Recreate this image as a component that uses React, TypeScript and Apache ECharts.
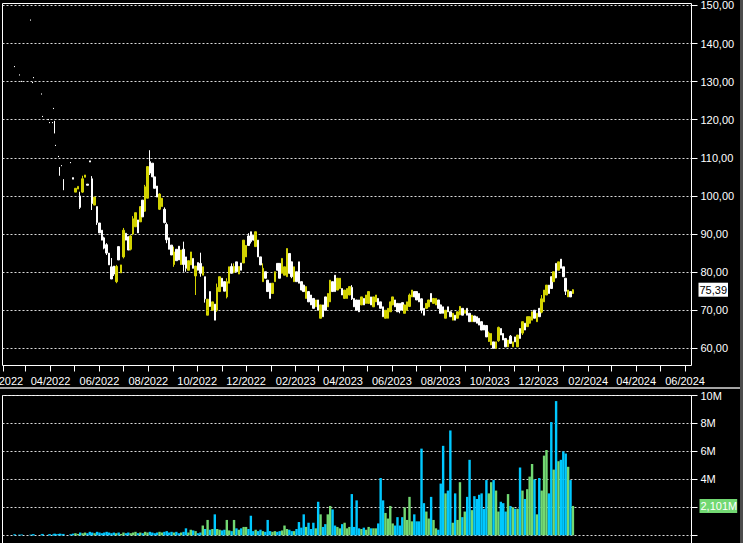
import { useEffect, useRef } from 'react';
import * as echarts from 'echarts';

// [date, open, close, low, high, volume in millions]
type Bar = [string, number, number, number, number, number];

const earlyTrades: Bar[] = [
  ['2022-02-15', 134.1, 133.8, 133.8, 134.1, 0.08],
  ['2022-02-21', 131.9, 131.6, 131.6, 131.9, 0.05],
  ['2022-02-24', 130.2, 129.9, 129.9, 130.2, 0.06],
  ['2022-03-07', 146.3, 146.0, 146.0, 146.3, 0.05],
  ['2022-03-10', 129.9, 129.6, 129.6, 129.9, 0.08],
  ['2022-03-11', 131.2, 130.9, 130.9, 131.2, 0.06],
  ['2022-03-21', 126.9, 126.6, 126.6, 126.9, 0.07],
  ['2022-03-22', 121.0, 120.7, 120.7, 121.0, 0.1],
  ['2022-03-30', 120.2, 119.9, 119.9, 120.2, 0.06],
  ['2022-03-31', 119.4, 119.1, 119.1, 119.4, 0.08],
  ['2022-04-04', 119.4, 119.1, 119.1, 119.4, 0.05],
  ['2022-04-05', 123.1, 122.8, 122.8, 123.1, 0.07],
  ['2022-04-06', 119.7, 116.4, 116.4, 119.7, 0.12],
  ['2022-04-08', 113.4, 113.1, 113.1, 113.4, 0.08],
  ['2022-04-11', 110.5, 110.2, 110.2, 110.5, 0.1],
  ['2022-04-13', 107.6, 105.3, 105.3, 107.6, 0.12],
  ['2022-04-15', 108.1, 107.8, 107.8, 108.1, 0.06],
  ['2022-04-17', 104.4, 102.1, 101.5, 104.4, 0.1],
  ['2022-04-26', 108.9, 108.6, 108.6, 108.9, 0.08],
];

const dailyBars: Bar[] = [
  ['2022-04-29', 104.8, 104.4, 104.4, 104.8, 0.12],
  ['2022-05-02', 101.0, 102.0, 101.0, 102.0, 0.15],
  ['2022-05-05', 101.8, 102.5, 101.8, 102.5, 0.1],
  ['2022-05-08', 100.0, 97.0, 96.6, 101.1, 0.2],
  ['2022-05-11', 101.0, 104.5, 100.8, 105.3, 0.15],
  ['2022-05-14', 104.9, 105.5, 104.9, 105.5, 0.2],
  ['2022-05-17', 103.1, 102.8, 102.8, 103.1, 0.15],
  ['2022-05-20', 109.2, 108.9, 108.9, 109.2, 0.25],
  ['2022-05-23', 104.5, 98.0, 96.3, 105.2, 0.2],
  ['2022-05-26', 97.6, 99.7, 97.6, 99.7, 0.15],
  ['2022-05-29', 97.2, 93.0, 92.4, 97.2, 0.25],
  ['2022-06-01', 92.9, 90.3, 90.3, 92.9, 0.2],
  ['2022-06-04', 91.0, 88.4, 88.4, 91.0, 0.15],
  ['2022-06-07', 89.0, 86.3, 86.0, 89.3, 0.2],
  ['2022-06-10', 87.2, 85.0, 84.5, 87.6, 0.25],
  ['2022-06-13', 85.0, 81.9, 81.9, 85.0, 0.2],
  ['2022-06-16', 81.4, 78.2, 78.2, 83.7, 0.15],
  ['2022-06-19', 81.6, 79.5, 79.0, 81.6, 0.2],
  ['2022-06-22', 77.5, 81.5, 77.1, 81.9, 0.15],
  ['2022-06-25', 86.7, 83.2, 83.2, 86.7, 0.2],
  ['2022-06-28', 79.8, 81.9, 79.8, 81.9, 0.1],
  ['2022-07-01', 84.0, 91.0, 83.6, 91.6, 0.2],
  ['2022-07-04', 90.2, 88.4, 88.4, 90.2, 0.15],
  ['2022-07-07', 89.3, 85.8, 85.8, 89.3, 0.2],
  ['2022-07-10', 86.0, 89.5, 85.7, 89.7, 0.15],
  ['2022-07-13', 90.0, 94.0, 89.7, 94.7, 0.2],
  ['2022-07-16', 91.9, 95.6, 91.9, 95.6, 0.25],
  ['2022-07-19', 93.7, 90.3, 90.3, 93.7, 0.15],
  ['2022-07-22', 93.2, 97.2, 93.2, 97.2, 0.2],
  ['2022-07-25', 98.9, 94.5, 94.5, 98.9, 0.15],
  ['2022-07-28', 96.0, 102.4, 95.8, 102.9, 0.25],
  ['2022-07-31', 99.4, 107.7, 99.4, 107.7, 0.2],
  ['2022-08-03', 109.0, 106.0, 105.5, 112.0, 0.25],
  ['2022-08-06', 108.6, 105.0, 105.0, 108.6, 0.2],
  ['2022-08-09', 105.0, 102.0, 102.0, 105.0, 0.15],
  ['2022-08-12', 102.6, 99.7, 99.7, 102.6, 0.2],
  ['2022-08-15', 96.5, 100.5, 96.3, 100.7, 0.25],
  ['2022-08-18', 97.2, 99.4, 97.2, 99.4, 0.2],
  ['2022-08-21', 96.5, 93.0, 92.8, 97.0, 0.25],
  ['2022-08-24', 92.5, 88.5, 87.6, 93.0, 0.3],
  ['2022-08-27', 89.0, 86.0, 86.0, 89.0, 0.2],
  ['2022-08-30', 87.1, 84.5, 84.5, 87.1, 0.25],
  ['2022-09-02', 82.0, 85.3, 81.4, 86.7, 0.2],
  ['2022-09-05', 86.0, 83.0, 83.0, 86.0, 0.25],
  ['2022-09-08', 86.8, 83.2, 83.2, 86.8, 0.15],
  ['2022-09-11', 82.0, 85.8, 81.9, 85.8, 0.2],
  ['2022-09-14', 86.0, 82.0, 80.1, 88.0, 0.25],
  ['2022-09-17', 84.0, 81.0, 80.1, 84.0, 0.5],
  ['2022-09-20', 80.5, 83.0, 80.5, 83.0, 0.2],
  ['2022-09-23', 81.9, 85.3, 81.9, 85.3, 0.4],
  ['2022-09-26', 83.6, 81.0, 81.0, 83.6, 0.35],
  ['2022-09-29', 79.0, 81.6, 74.0, 81.6, 0.3],
  ['2022-10-02', 82.5, 80.5, 80.5, 82.5, 0.15],
  ['2022-10-05', 82.3, 79.7, 78.8, 85.1, 0.2],
  ['2022-10-08', 79.2, 81.4, 79.2, 81.4, 0.7],
  ['2022-10-11', 78.8, 73.0, 72.0, 78.8, 0.45],
  ['2022-10-14', 68.7, 72.9, 68.7, 72.9, 1.1],
  ['2022-10-17', 74.9, 71.0, 70.9, 74.9, 0.4],
  ['2022-10-20', 70.0, 72.2, 70.0, 72.2, 0.45],
  ['2022-10-23', 71.6, 67.4, 67.4, 71.6, 1.5],
  ['2022-10-26', 70.0, 76.0, 69.6, 77.0, 0.45],
  ['2022-10-29', 74.9, 78.8, 74.9, 78.8, 0.4],
  ['2022-11-01', 78.4, 76.2, 76.2, 78.4, 0.35],
  ['2022-11-04', 77.5, 75.0, 75.0, 77.5, 0.4],
  ['2022-11-07', 73.5, 77.5, 73.1, 78.4, 1.1],
  ['2022-11-10', 77.1, 81.4, 77.1, 81.4, 0.35],
  ['2022-11-13', 81.5, 79.7, 79.7, 82.3, 0.3],
  ['2022-11-16', 80.0, 81.5, 79.7, 82.3, 1.1],
  ['2022-11-19', 82.7, 80.1, 80.1, 82.7, 0.5],
  ['2022-11-22', 79.5, 81.5, 79.5, 81.5, 0.4],
  ['2022-11-25', 82.4, 80.5, 80.5, 82.4, 0.5],
  ['2022-11-28', 82.4, 88.4, 82.4, 88.4, 0.6],
  ['2022-12-01', 84.0, 87.0, 84.0, 87.1, 0.6],
  ['2022-12-04', 89.5, 87.0, 87.0, 90.2, 0.45],
  ['2022-12-07', 90.6, 88.0, 87.5, 90.6, 1.4],
  ['2022-12-10', 89.7, 88.4, 88.4, 89.7, 0.3],
  ['2022-12-13', 86.7, 90.6, 86.7, 90.6, 0.4],
  ['2022-12-16', 88.4, 84.0, 84.0, 88.4, 0.3],
  ['2022-12-19', 84.0, 81.9, 81.9, 84.0, 0.4],
  ['2022-12-22', 77.5, 81.0, 77.5, 82.3, 0.3],
  ['2022-12-25', 80.1, 78.4, 78.4, 80.1, 0.25],
  ['2022-12-28', 77.9, 74.9, 74.9, 77.9, 1.1],
  ['2022-12-31', 77.1, 73.1, 73.1, 77.1, 0.3],
  ['2023-01-03', 74.4, 77.1, 74.4, 77.1, 0.25],
  ['2023-01-06', 77.5, 80.1, 77.5, 80.1, 0.3],
  ['2023-01-09', 82.3, 80.5, 80.5, 82.3, 0.25],
  ['2023-01-12', 82.3, 78.4, 78.4, 82.3, 0.3],
  ['2023-01-15', 79.7, 83.6, 79.7, 83.6, 0.35],
  ['2023-01-18', 79.2, 81.4, 79.2, 81.4, 0.7],
  ['2023-01-21', 78.8, 86.2, 78.8, 86.2, 0.45],
  ['2023-01-24', 84.9, 79.7, 79.7, 84.9, 0.4],
  ['2023-01-27', 82.7, 78.8, 78.4, 82.7, 0.3],
  ['2023-01-30', 77.5, 81.4, 77.5, 81.4, 0.3],
  ['2023-02-02', 80.1, 77.5, 77.5, 80.1, 0.45],
  ['2023-02-05', 82.7, 77.1, 77.1, 82.7, 0.95],
  ['2023-02-08', 77.5, 75.3, 75.3, 77.5, 0.55],
  ['2023-02-11', 76.6, 74.9, 74.9, 76.6, 1.5],
  ['2023-02-14', 73.1, 76.2, 73.1, 76.2, 0.6],
  ['2023-02-17', 74.9, 72.2, 72.2, 74.9, 0.9],
  ['2023-02-20', 74.0, 71.4, 71.4, 74.0, 0.45],
  ['2023-02-23', 73.1, 70.5, 70.5, 73.1, 0.9],
  ['2023-02-26', 70.9, 72.7, 70.9, 72.7, 0.5],
  ['2023-03-01', 72.7, 70.0, 70.0, 72.7, 2.4],
  ['2023-03-04', 67.9, 71.4, 67.9, 71.4, 1.5],
  ['2023-03-07', 71.4, 68.3, 68.3, 71.4, 0.6],
  ['2023-03-10', 73.5, 70.0, 70.0, 73.5, 0.8],
  ['2023-03-13', 70.9, 74.4, 70.9, 74.4, 1.5],
  ['2023-03-16', 72.2, 77.9, 72.2, 77.9, 2.1],
  ['2023-03-19', 77.5, 74.9, 74.9, 77.5, 1.85],
  ['2023-03-22', 79.2, 74.9, 74.9, 79.2, 0.7],
  ['2023-03-25', 75.3, 78.4, 75.3, 78.4, 0.6],
  ['2023-03-28', 75.7, 78.4, 75.7, 78.4, 0.5],
  ['2023-03-31', 75.7, 74.0, 74.0, 75.7, 0.8],
  ['2023-04-03', 73.1, 75.3, 73.1, 75.3, 0.9],
  ['2023-04-06', 73.1, 75.7, 73.1, 75.7, 0.5],
  ['2023-04-09', 74.0, 76.2, 74.0, 76.2, 0.6],
  ['2023-04-12', 76.0, 73.0, 72.7, 76.6, 2.95],
  ['2023-04-15', 73.1, 70.9, 70.9, 73.1, 0.6],
  ['2023-04-18', 72.7, 70.0, 70.0, 72.7, 2.5],
  ['2023-04-21', 72.7, 69.6, 69.6, 72.7, 0.5],
  ['2023-04-24', 71.4, 73.5, 71.4, 73.5, 0.45],
  ['2023-04-27', 73.1, 71.4, 71.4, 73.1, 0.55],
  ['2023-04-30', 71.8, 74.0, 71.8, 74.0, 0.4],
  ['2023-05-03', 71.8, 74.9, 71.8, 74.9, 0.6],
  ['2023-05-06', 73.5, 71.4, 71.4, 73.5, 0.5],
  ['2023-05-09', 70.9, 73.5, 70.9, 73.5, 0.5],
  ['2023-05-12', 72.2, 74.0, 72.2, 74.0, 0.5],
  ['2023-05-15', 73.1, 71.4, 71.4, 73.1, 0.85],
  ['2023-05-18', 72.2, 70.5, 70.5, 72.2, 4.1],
  ['2023-05-21', 70.9, 68.3, 68.3, 70.9, 2.5],
  ['2023-05-24', 67.9, 70.0, 67.9, 70.0, 1.6],
  ['2023-05-27', 67.9, 70.5, 67.9, 70.5, 1.2],
  ['2023-05-30', 69.6, 72.2, 69.6, 72.2, 2.1],
  ['2023-06-02', 71.4, 73.5, 71.4, 73.5, 0.85],
  ['2023-06-05', 72.7, 70.9, 70.9, 72.7, 0.7],
  ['2023-06-08', 71.8, 69.6, 69.6, 71.8, 1.3],
  ['2023-06-11', 71.8, 70.0, 69.2, 71.8, 0.7],
  ['2023-06-14', 72.0, 70.0, 70.0, 72.0, 1.3],
  ['2023-06-17', 69.2, 71.4, 69.2, 71.4, 2.0],
  ['2023-06-20', 70.0, 72.2, 70.0, 72.2, 1.1],
  ['2023-06-23', 71.0, 74.0, 70.9, 74.4, 2.75],
  ['2023-06-26', 73.5, 75.3, 73.5, 75.3, 1.0],
  ['2023-06-29', 74.9, 73.5, 73.5, 74.9, 1.5],
  ['2023-07-02', 74.9, 72.7, 72.7, 74.9, 1.0],
  ['2023-07-05', 74.4, 72.2, 72.2, 74.4, 1.0],
  ['2023-07-08', 73.0, 70.0, 69.2, 73.1, 6.2],
  ['2023-07-11', 70.5, 68.7, 68.7, 70.5, 2.3],
  ['2023-07-14', 70.5, 71.8, 70.5, 71.8, 1.7],
  ['2023-07-17', 70.9, 72.7, 70.9, 72.7, 1.2],
  ['2023-07-20', 74.4, 72.2, 72.2, 74.4, 2.75],
  ['2023-07-23', 71.8, 73.1, 71.8, 73.1, 1.1],
  ['2023-07-26', 71.4, 73.1, 71.4, 73.1, 0.5],
  ['2023-07-29', 72.7, 70.5, 70.5, 72.7, 0.4],
  ['2023-08-01', 71.4, 69.2, 69.2, 71.4, 3.7],
  ['2023-08-04', 70.9, 69.2, 69.2, 70.9, 6.4],
  ['2023-08-07', 67.9, 70.0, 67.9, 70.0, 3.0],
  ['2023-08-10', 70.9, 69.6, 69.6, 70.9, 3.2],
  ['2023-08-13', 69.6, 68.3, 68.3, 69.6, 7.5],
  ['2023-08-16', 67.4, 69.2, 67.4, 69.2, 0.9],
  ['2023-08-19', 68.7, 67.4, 67.4, 68.7, 3.0],
  ['2023-08-22', 67.9, 69.6, 67.9, 69.6, 1.1],
  ['2023-08-25', 68.8, 71.0, 68.7, 71.1, 3.8],
  ['2023-08-28', 70.5, 68.7, 68.7, 70.5, 1.3],
  ['2023-08-31', 69.2, 70.0, 69.2, 70.0, 1.7],
  ['2023-09-03', 70.5, 68.7, 68.7, 70.5, 2.75],
  ['2023-09-06', 69.2, 67.0, 67.0, 69.2, 5.4],
  ['2023-09-09', 67.0, 68.7, 67.0, 68.7, 1.8],
  ['2023-09-12', 68.5, 67.0, 67.0, 68.5, 2.8],
  ['2023-09-15', 68.3, 66.6, 66.6, 68.3, 2.6],
  ['2023-09-18', 67.9, 66.1, 66.1, 67.9, 2.9],
  ['2023-09-21', 67.0, 64.8, 64.8, 67.0, 3.0],
  ['2023-09-24', 66.1, 64.8, 64.8, 66.1, 1.9],
  ['2023-09-27', 66.0, 63.0, 63.0, 66.1, 3.95],
  ['2023-09-30', 61.8, 64.0, 61.7, 64.4, 3.0],
  ['2023-10-03', 60.9, 63.9, 60.9, 63.9, 3.8],
  ['2023-10-06', 61.7, 60.0, 60.0, 61.7, 3.95],
  ['2023-10-09', 60.0, 61.7, 60.0, 61.7, 3.2],
  ['2023-10-12', 62.0, 65.5, 61.7, 65.7, 1.7],
  ['2023-10-15', 65.2, 63.5, 63.5, 65.2, 2.4],
  ['2023-10-18', 63.9, 62.2, 62.2, 63.9, 2.3],
  ['2023-10-21', 62.6, 60.4, 60.4, 62.6, 1.7],
  ['2023-10-24', 60.4, 62.2, 60.4, 62.2, 2.95],
  ['2023-10-27', 63.2, 61.3, 61.3, 63.5, 2.1],
  ['2023-10-30', 60.4, 61.7, 60.4, 61.7, 2.0],
  ['2023-11-02', 63.0, 61.7, 61.7, 63.0, 1.9],
  ['2023-11-05', 60.4, 63.5, 60.4, 63.5, 1.9],
  ['2023-11-08', 65.2, 62.6, 62.6, 65.2, 4.85],
  ['2023-11-11', 64.0, 67.0, 63.5, 67.0, 3.2],
  ['2023-11-14', 66.6, 64.8, 64.8, 66.6, 2.6],
  ['2023-11-17', 65.7, 68.3, 65.7, 68.3, 3.3],
  ['2023-11-20', 66.6, 68.3, 66.6, 68.3, 4.2],
  ['2023-11-23', 67.4, 69.6, 67.4, 69.6, 5.1],
  ['2023-11-26', 70.0, 67.9, 67.9, 70.0, 4.0],
  ['2023-11-29', 67.0, 69.2, 67.0, 69.2, 1.5],
  ['2023-12-02', 70.5, 68.3, 68.3, 70.5, 4.1],
  ['2023-12-05', 69.5, 73.0, 69.2, 74.0, 3.2],
  ['2023-12-08', 72.2, 75.3, 72.2, 75.3, 5.7],
  ['2023-12-11', 74.0, 76.6, 74.0, 76.6, 6.1],
  ['2023-12-14', 76.6, 74.4, 74.4, 76.6, 3.0],
  ['2023-12-17', 78.8, 75.7, 75.7, 78.8, 8.1],
  ['2023-12-20', 77.5, 80.1, 77.5, 80.1, 4.7],
  ['2023-12-23', 82.3, 78.5, 78.4, 82.3, 9.6],
  ['2023-12-26', 80.5, 82.7, 80.5, 82.7, 5.3],
  ['2023-12-29', 83.4, 81.0, 81.0, 83.4, 5.4],
  ['2024-01-01', 81.4, 78.8, 78.8, 81.4, 6.0],
  ['2024-01-04', 78.4, 75.0, 74.0, 78.4, 5.85],
  ['2024-01-07', 73.5, 75.3, 73.5, 75.3, 4.9],
  ['2024-01-10', 74.9, 73.5, 73.5, 74.9, 3.95],
  ['2024-01-13', 74.4, 75.39, 74.3, 75.5, 2.101],
];

const priceTicks = [60, 70, 80, 90, 100, 110, 120, 130, 140, 150];
const volumeTicks = [0, 2, 4, 6, 8, 10];
const volumeLabels = [4, 6, 8, 10];
const monthTicks = [
  '2022-02-01', '2022-03-01', '2022-04-01', '2022-05-01', '2022-06-01', '2022-07-01',
  '2022-08-01', '2022-09-01', '2022-10-01', '2022-11-01', '2022-12-01', '2023-01-01',
  '2023-02-01', '2023-03-01', '2023-04-01', '2023-05-01', '2023-06-01', '2023-07-01',
  '2023-08-01', '2023-09-01', '2023-10-01', '2023-11-01', '2023-12-01', '2024-01-01',
  '2024-02-01', '2024-03-01', '2024-04-01', '2024-05-01', '2024-06-01',
];
const monthLabels = [
  '2022-02-01', '2022-04-01', '2022-06-01', '2022-08-01', '2022-10-01', '2022-12-01',
  '2023-02-01', '2023-04-01', '2023-06-01', '2023-08-01', '2023-10-01', '2023-12-01',
  '2024-02-01', '2024-04-01', '2024-06-01',
];
const axisStart = '2022-01-31';
const axisEnd = '2024-06-09';
const priceRange = [55.5, 150.5];
const volumeRange = [-1, 10];

const UP = '#d2d200';
const DOWN = '#ffffff';
const VOL_UP = '#72d872';
const VOL_DOWN = '#00c8ff';
const GRIDLINE = '#dcdcdc';
const TEXT = '#ffffff';
const FONT = "'Liberation Sans', Arial, sans-serif";

const ts = (d: string) => Date.parse(d + 'T00:00:00Z');
const comma = (v: number, digits: number) => v.toFixed(digits).replace('.', ',');
const monthText = (v: number) => {
  const d = new Date(v);
  return String(d.getUTCMonth() + 1).padStart(2, '0') + '/' + d.getUTCFullYear();
};

export default function App() {
  const ref = useRef<HTMLDivElement>(null);

  useEffect(() => {
    if (!ref.current) return;
    document.body.style.margin = '0';
    const chart = echarts.init(ref.current, null, { renderer: 'svg' });
    const last = dailyBars[dailyBars.length - 1];
    const toCandle = (r: Bar) => [ts(r[0]), r[1], r[2], r[3], r[4]];
    const volumeData = [...earlyTrades, ...dailyBars].map((r) => ({
      value: [ts(r[0]), r[5]],
      itemStyle: { color: r[2] >= r[1] ? VOL_UP : VOL_DOWN },
    }));
    const candleStyle = {
      color: UP,
      color0: DOWN,
      borderColor: UP,
      borderColor0: DOWN,
      borderWidth: 1,
    };
    const labelBase = { color: TEXT, fontSize: 11, fontFamily: FONT };
    const xMin = ts(axisStart);
    const xMax = ts(axisEnd);
    const splitLine = { show: true, lineStyle: { color: GRIDLINE, type: [2, 2], width: 1 } };

    chart.setOption({
      animation: false,
      backgroundColor: '#000000',
      grid: [
        {
          left: 2.5, top: 3.5, width: 689, height: 362,
          show: true, borderColor: '#ffffff', borderWidth: 1, backgroundColor: 'transparent',
          containLabel: false, outerBoundsMode: 'none',
        },
        {
          left: 2.5, top: 395.5, width: 689, height: 153.8,
          show: true, borderColor: '#ffffff', borderWidth: 1, backgroundColor: 'transparent',
          containLabel: false, outerBoundsMode: 'none',
        },
      ],
      xAxis: [
        {
          type: 'value', gridIndex: 0, min: xMin, max: xMax,
          axisLine: { show: false },
          splitLine: { show: false },
          axisTick: { show: true, customValues: monthTicks.map(ts), length: 6, lineStyle: { color: '#ffffff' } },
          axisLabel: { ...labelBase, customValues: monthLabels.map(ts), formatter: monthText, margin: 10 },
        },
        {
          type: 'value', gridIndex: 1, min: xMin, max: xMax,
          axisLine: { show: false }, axisTick: { show: false }, axisLabel: { show: false }, splitLine: { show: false },
        },
      ],
      yAxis: [
        {
          type: 'value', gridIndex: 0, position: 'right', min: priceRange[0], max: priceRange[1],
          axisLine: { show: false },
          axisTick: { show: true, customValues: priceTicks, length: 6, lineStyle: { color: '#ffffff' } },
          axisLabel: { ...labelBase, customValues: priceTicks, formatter: (v: number) => comma(v, 2), margin: 9 },
          splitLine,
        },
        {
          type: 'value', gridIndex: 1, position: 'right', min: volumeRange[0], max: volumeRange[1],
          axisLine: { show: false },
          axisTick: { show: true, customValues: volumeTicks, length: 6, lineStyle: { color: '#ffffff' } },
          axisLabel: { ...labelBase, customValues: volumeLabels, formatter: (v: number) => v + 'M', margin: 9 },
          splitLine,
        },
      ],
      graphic: [
        { type: 'rect', silent: true, shape: { x: 0, y: 387, width: 740, height: 2 }, style: { fill: '#a4a4a4' } },
        { type: 'rect', silent: true, shape: { x: 740, y: 0, width: 3, height: 543 }, style: { fill: '#4c4c4c' } },
      ],
      series: [
        {
          type: 'candlestick', name: 'early', xAxisIndex: 0, yAxisIndex: 0,
          encode: { x: 0, y: [1, 2, 3, 4] },
          barWidth: 1.2,
          itemStyle: candleStyle,
          data: earlyTrades.map(toCandle),
        },
        {
          type: 'candlestick', name: 'price', xAxisIndex: 0, yAxisIndex: 0,
          encode: { x: 0, y: [1, 2, 3, 4] },
          barWidth: 2,
          itemStyle: candleStyle,
          data: dailyBars.map(toCandle),
          markLine: {
            silent: true, symbol: ['none', 'none'], animation: false,
            lineStyle: { width: 0, color: 'rgba(0,0,0,0)' },
            label: {
              show: true, position: 'end', distance: 7,
              formatter: () => comma(last[2], 2),
              color: '#000000', backgroundColor: '#ffffff',
              padding: [1, 1, 1, 1], fontSize: 11, lineHeight: 12, fontFamily: FONT,
            },
            data: [{ yAxis: last[2] }],
          },
        },
        {
          type: 'bar', name: 'volume', xAxisIndex: 1, yAxisIndex: 1,
          barWidth: 2.4,
          data: volumeData,
          markLine: {
            silent: true, symbol: ['none', 'none'], animation: false,
            lineStyle: { width: 0, color: 'rgba(0,0,0,0)' },
            label: {
              show: true, position: 'end', distance: 8,
              formatter: () => comma(last[5], 3) + 'M',
              color: '#ffffff', backgroundColor: VOL_UP,
              padding: [1, 0, 1, 1], fontSize: 11, lineHeight: 12, fontFamily: FONT,
            },
            data: [{ yAxis: last[5] }],
          },
        },
      ],
    });
    return () => chart.dispose();
  }, []);

  return (
    <div
      ref={ref}
      style={{ position: 'fixed', left: 0, top: 0, width: 743, height: 543, background: '#000000' }}
    />
  );
}
